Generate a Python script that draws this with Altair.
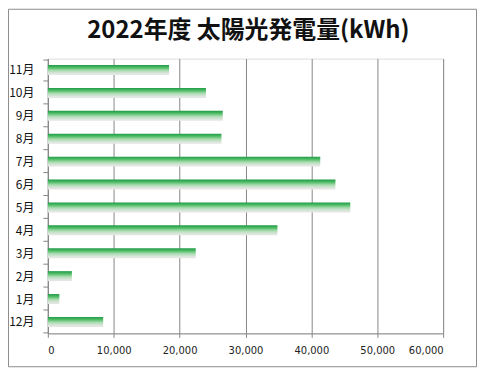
import altair as alt
import pandas as pd

title_text = "2022年度 太陽光発電量(kWh)"
months = ["12月", "1月", "2月", "3月", "4月", "5月", "6月", "7月", "8月", "9月", "10月", "11月"]
values = [8400, 1750, 3650, 22450, 34850, 45900, 43650, 41350, 26350, 26550, 24000, 18400]
x_ticks = [0, 10000, 20000, 30000, 40000, 50000, 60000]

df = pd.DataFrame({"month": months, "kwh": values})

grad = alt.Gradient(
    gradient="linear",
    stops=[
        alt.GradientStop(color="#1f9a48", offset=0),
        alt.GradientStop(color="#4dbb63", offset=0.25),
        alt.GradientStop(color="#a9dcb0", offset=0.55),
        alt.GradientStop(color="#dfe6df", offset=0.85),
        alt.GradientStop(color="#e4e6e4", offset=1),
    ],
    x1=0, x2=0, y1=0, y2=1,
)

bars = alt.Chart(df).mark_bar(size=10, color=grad).encode(
    x=alt.X(
        "kwh:Q",
        scale=alt.Scale(domain=[0, 60000], nice=False),
        axis=alt.Axis(
            values=x_ticks, format=",.0f", title=None, grid=True,
            gridColor="#868686", gridWidth=1, domainColor="#868686",
            tickColor="#868686", tickSize=4, labelPadding=8,
            labelFont="DejaVu Sans", labelFontSize=10, labelColor="#222222",
        ),
    ),
    y=alt.Y(
        "month:N",
        sort=list(reversed(months)),
        axis=alt.Axis(
            title=None, domainColor="#868686", tickColor="#868686",
            tickSize=5, tickBand="extent", labelPadding=9,
            labelFont="Noto Sans CJK JP", labelFontSize=12, labelColor="#111111",
        ),
    ),
)

border = alt.Chart(alt.Data(values=[{}])).mark_rect(
    filled=False, stroke="#8c8c8c", strokeWidth=1
).encode(
    x=alt.value(-39.5), x2=alt.value(430.5),
    y=alt.value(-49.5), y2=alt.value(309.5),
)

title = alt.Chart(alt.Data(values=[{"t": title_text}])).mark_text(
    font="Noto Sans CJK JP", fontSize=24, fontWeight="bold", color="#111111",
    align="center", baseline="alphabetic",
).encode(
    text="t:N", x=alt.value(201.5), y=alt.value(-21),
)

chart = alt.layer(bars, border, title).properties(
    width=397,
    height=276,
    autosize=alt.AutoSizeParams(type="none"),
    padding={"left": 40, "top": 50, "right": 34, "bottom": 35},
).configure_view(stroke=None).configure(background="white")

chart.save("out.html", embed_options={"renderer": "svg", "actions": False})
